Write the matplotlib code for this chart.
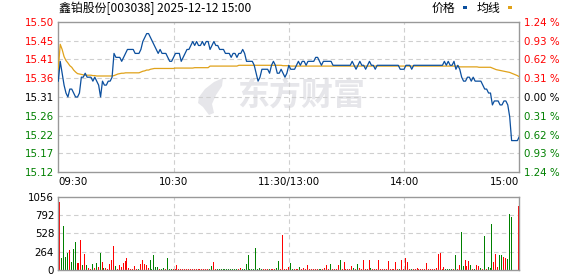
import numpy as np
import matplotlib
matplotlib.use('Agg')
import matplotlib.pyplot as plt
import matplotlib.patches as patches

# ---- data ----
stock_title = '鑫铂股份[003038] 2025-12-12 15:00'
prev_close = 15.31
amplitude = 0.19

price_labels = ['15.12', '15.17', '15.22', '15.26', '15.31', '15.36', '15.41', '15.45', '15.50']
pct_labels = ['1.24 %', '0.93 %', '0.62 %', '0.31 %', '0.00 %', '0.31 %', '0.62 %', '0.93 %', '1.24 %']
time_labels = ['09:30', '10:30', '11:30/13:00', '14:00', '15:00']
time_ticks = [0, 60, 120, 180, 240]
vol_ticks = [0, 264, 528, 792, 1056]

# minute prices 09:30 .. 15:00 (241 points, 11:30 and 13:00 share one slot)
price = [
    15.35, 15.40, 15.37, 15.34, 15.32, 15.31, 15.33, 15.33, 15.32, 15.31,
    15.31, 15.32, 15.36, 15.36, 15.37, 15.36, 15.36, 15.36, 15.35, 15.36,
    15.35, 15.34, 15.31, 15.35, 15.34, 15.34, 15.35, 15.35, 15.36, 15.42,
    15.41, 15.41, 15.41, 15.40, 15.41, 15.42, 15.43, 15.43, 15.43, 15.43,
    15.42, 15.42, 15.42, 15.43, 15.45, 15.46, 15.47, 15.47, 15.46, 15.45,
    15.44, 15.43, 15.42, 15.43, 15.42, 15.42, 15.42, 15.41, 15.40, 15.40,
    15.41, 15.42, 15.42, 15.42, 15.40, 15.41, 15.42, 15.43, 15.43, 15.44,
    15.45, 15.44, 15.45, 15.44, 15.44, 15.45, 15.44, 15.45, 15.45, 15.43,
    15.44, 15.45, 15.44, 15.44, 15.43, 15.43, 15.43, 15.42, 15.42, 15.42,
    15.41, 15.42, 15.42, 15.41, 15.42, 15.42, 15.43, 15.42, 15.40, 15.40,
    15.40, 15.40, 15.39, 15.37, 15.35, 15.36, 15.38, 15.38, 15.38, 15.38,
    15.37, 15.39, 15.40, 15.39, 15.37, 15.37, 15.38, 15.37, 15.36, 15.37,
    15.39, 15.38, 15.38, 15.38, 15.39, 15.40, 15.39, 15.40, 15.40, 15.39,
    15.40, 15.40, 15.40, 15.40, 15.41, 15.41, 15.40, 15.39, 15.40, 15.40,
    15.40, 15.40, 15.40, 15.39, 15.39, 15.39, 15.39, 15.39, 15.39, 15.39,
    15.39, 15.39, 15.39, 15.40, 15.39, 15.38, 15.39, 15.40, 15.39, 15.39,
    15.38, 15.39, 15.40, 15.39, 15.39, 15.38, 15.39, 15.39, 15.39, 15.39,
    15.39, 15.39, 15.39, 15.39, 15.39, 15.39, 15.39, 15.39, 15.38, 15.38,
    15.38, 15.39, 15.39, 15.39, 15.38, 15.39, 15.39, 15.39, 15.39, 15.39,
    15.39, 15.39, 15.39, 15.39, 15.39, 15.39, 15.39, 15.39, 15.39, 15.39,
    15.39, 15.40, 15.39, 15.40, 15.39, 15.39, 15.40, 15.38, 15.39, 15.38,
    15.36, 15.35, 15.35, 15.36, 15.36, 15.35, 15.36, 15.35, 15.35, 15.35,
    15.35, 15.34, 15.33, 15.33, 15.32, 15.32, 15.29, 15.30, 15.30, 15.30,
    15.29, 15.29, 15.30, 15.30, 15.29, 15.26, 15.20, 15.20, 15.20, 15.20,
    15.21,
]

avg_price = [
    15.380, 15.443, 15.430, 15.412, 15.402, 15.396, 15.389, 15.385, 15.378, 15.373,
    15.369, 15.368, 15.367, 15.366, 15.365, 15.365, 15.365, 15.365, 15.364, 15.364,
    15.363, 15.363, 15.363, 15.363, 15.363, 15.363, 15.363, 15.363, 15.363, 15.364,
    15.366, 15.368, 15.369, 15.370, 15.370, 15.371, 15.371, 15.371, 15.371, 15.371,
    15.371, 15.371, 15.371, 15.373, 15.375, 15.376, 15.378, 15.378, 15.380, 15.381,
    15.382, 15.382, 15.382, 15.382, 15.382, 15.382, 15.382, 15.382, 15.382, 15.382,
    15.382, 15.383, 15.383, 15.383, 15.383, 15.383, 15.383, 15.383, 15.383, 15.383,
    15.383, 15.384, 15.384, 15.384, 15.384, 15.384, 15.384, 15.384, 15.384, 15.388,
    15.388, 15.388, 15.388, 15.388, 15.388, 15.388, 15.388, 15.388, 15.388, 15.388,
    15.388, 15.388, 15.388, 15.388, 15.390, 15.390, 15.390, 15.390, 15.390, 15.390,
    15.390, 15.390, 15.390, 15.390, 15.390, 15.390, 15.390, 15.390, 15.390, 15.390,
    15.390, 15.390, 15.390, 15.390, 15.390, 15.390, 15.390, 15.389, 15.389, 15.389,
    15.389, 15.388, 15.388, 15.388, 15.388, 15.388, 15.388, 15.388, 15.388, 15.388,
    15.388, 15.388, 15.388, 15.388, 15.388, 15.388, 15.388, 15.388, 15.388, 15.388,
    15.388, 15.388, 15.388, 15.388, 15.388, 15.388, 15.388, 15.388, 15.388, 15.388,
    15.388, 15.388, 15.388, 15.388, 15.388, 15.388, 15.388, 15.388, 15.388, 15.388,
    15.388, 15.388, 15.388, 15.388, 15.388, 15.388, 15.388, 15.388, 15.388, 15.388,
    15.388, 15.388, 15.388, 15.388, 15.388, 15.388, 15.388, 15.388, 15.388, 15.388,
    15.388, 15.388, 15.388, 15.388, 15.388, 15.388, 15.388, 15.388, 15.388, 15.388,
    15.388, 15.388, 15.388, 15.388, 15.388, 15.388, 15.388, 15.388, 15.388, 15.388,
    15.388, 15.388, 15.388, 15.388, 15.388, 15.388, 15.388, 15.388, 15.388, 15.386,
    15.386, 15.386, 15.386, 15.386, 15.386, 15.386, 15.386, 15.386, 15.386, 15.385,
    15.385, 15.385, 15.385, 15.385, 15.385, 15.385, 15.383, 15.381, 15.379, 15.378,
    15.377, 15.376, 15.375, 15.374, 15.373, 15.372, 15.370, 15.368, 15.366, 15.364,
    15.361,
]

# minute volume 09:31 .. 15:00 (240 bars), and whether the bar is an up bar
volume = [
    984, 178, 634, 192, 240, 288, 120, 302, 408, 106,
    106, 432, 72, 230, 72, 24, 14, 86, 24, 106,
    48, 245, 110, 24, 24, 14, 86, 144, 346, 58,
    14, 72, 48, 96, 130, 178, 24, 14, 14, 62,
    14, 14, 82, 144, 82, 72, 24, 144, 14, 216,
    48, 48, 14, 14, 24, 14, 178, 14, 14, 14,
    14, 72, 14, 14, 14, 14, 14, 14, 14, 14,
    14, 14, 14, 14, 14, 14, 14, 14, 14, 58,
    120, 14, 14, 14, 14, 14, 14, 14, 14, 14,
    14, 14, 14, 14, 24, 14, 14, 86, 216, 14,
    14, 14, 322, 14, 34, 14, 14, 14, 14, 14,
    14, 14, 14, 34, 130, 14, 504, 14, 14, 48,
    96, 14, 14, 14, 14, 43, 14, 29, 14, 72,
    14, 14, 14, 14, 14, 14, 14, 14, 29, 72,
    14, 86, 14, 14, 14, 72, 144, 14, 110, 14,
    14, 14, 58, 29, 14, 86, 24, 14, 144, 14,
    14, 144, 24, 14, 14, 14, 144, 14, 14, 14,
    14, 130, 14, 14, 14, 110, 14, 14, 144, 14,
    178, 110, 14, 14, 14, 14, 29, 14, 14, 14,
    14, 101, 14, 14, 14, 14, 29, 230, 245, 14,
    43, 14, 14, 14, 14, 14, 216, 14, 72, 542,
    58, 144, 58, 130, 72, 14, 14, 72, 58, 29,
    14, 490, 14, 43, 29, 662, 115, 230, 43, 216,
    216, 187, 173, 158, 802, 763, 0, 0, 0, 922,
]
vol_up = [
    1, 0, 0, 0, 0, 1, 0, 0, 0, 1,
    1, 1, 0, 1, 0, 1, 1, 0, 1, 0,
    1, 0, 1, 0, 1, 1, 1, 1, 1, 0,
    1, 1, 1, 1, 1, 1, 1, 1, 1, 1,
    1, 0, 1, 1, 1, 1, 1, 0, 0, 0,
    0, 0, 1, 0, 0, 1, 0, 0, 0, 1,
    1, 1, 1, 1, 1, 1, 1, 1, 1, 1,
    1, 1, 1, 1, 1, 1, 1, 1, 0, 0,
    1, 1, 0, 0, 0, 0, 0, 0, 0, 0,
    0, 0, 0, 1, 1, 0, 0, 0, 0, 0,
    0, 0, 0, 0, 0, 0, 1, 1, 1, 0,
    1, 1, 1, 0, 0, 1, 1, 1, 1, 1,
    0, 0, 1, 1, 1, 0, 1, 1, 1, 1,
    1, 1, 1, 1, 1, 0, 0, 1, 1, 1,
    1, 0, 1, 1, 1, 1, 0, 1, 1, 1,
    1, 1, 1, 0, 1, 0, 1, 1, 1, 1,
    1, 1, 0, 1, 1, 1, 1, 1, 1, 1,
    1, 1, 1, 1, 1, 1, 1, 0, 1, 1,
    1, 1, 1, 0, 1, 1, 1, 1, 1, 1,
    1, 1, 1, 1, 1, 1, 1, 1, 1, 1,
    1, 0, 0, 0, 0, 1, 0, 1, 1, 0,
    0, 1, 1, 1, 0, 1, 0, 1, 1, 0,
    1, 0, 1, 0, 0, 0, 1, 1, 1, 0,
    0, 1, 1, 0, 0, 0, 1, 1, 1, 1,
]

# ---- style ----
RED = '#ff0000'
GREEN = '#008000'
BLUE = '#0b4f9e'
GOLD = '#e0a21a'
SPINE = '#999999'
GRID = '#cfcfcf'
CJK = ['Noto Sans CJK SC', 'DejaVu Sans']
FS = 7.4

W, H = 578, 276
fig = plt.figure(figsize=(W / 100, H / 100), dpi=100)
fig.patch.set_facecolor('white')

left, right = 58.3, 519.3
ax = fig.add_axes([left / W, (H - 172.3) / H, (right - left) / W, 150.6 / H])
axv = fig.add_axes([left / W, (H - 270.0) / H, (right - left) / W, 73.3 / H])

lo, hi = prev_close - amplitude, prev_close + amplitude
yt = np.linspace(lo, hi, len(price_labels))


def label_color(k, n):
    mid = n // 2
    if k > mid:
        return RED
    if k < mid:
        return GREEN
    return 'black'


for a in (ax, axv):
    for s in a.spines.values():
        s.set_color(SPINE)
        s.set_linewidth(1.0)
    a.set_xlim(0, 240)
    a.tick_params(length=0, labelsize=FS)
    a.set_xticks([])

# price panel
ax.set_ylim(lo, hi)
ax.set_yticks(yt)
ax.set_yticklabels(price_labels)
ax.tick_params(axis='y', pad=3)
for k, t in enumerate(ax.get_yticklabels()):
    t.set_color(label_color(k, len(yt)))

for y in yt[1:-1]:
    ax.axhline(y, color=GRID, lw=0.8, ls=(0, (4, 3)), zorder=1)
for x in time_ticks[1:-1]:
    ax.axvline(x, color=GRID, lw=0.8, ls=(0, (4, 3)), zorder=1)

# watermark
ax.text(0.526, 0.5, '东方财富', transform=ax.transAxes, ha='center', va='center',
        fontsize=23, fontweight='bold', color='#e6e6ea', family=CJK, zorder=0)
logo = [(223, 78), (214, 82), (205, 89), (199, 97), (198, 103), (203, 107),
        (209, 115), (214, 113), (212, 104), (216, 95), (222, 86)]
logo_ax = [((px - left) / (right - left), (172.3 - py) / 150.6) for px, py in logo]
ax.add_patch(patches.Polygon(logo_ax, closed=True, transform=ax.transAxes,
                             facecolor='#e6e6ea', edgecolor='none', zorder=0))

t = np.arange(len(price))
ax.plot(t, avg_price, color=GOLD, lw=0.9, zorder=3)
ax.plot(t, price, color=BLUE, lw=0.9, zorder=4)

axr = ax.twinx()
axr.set_ylim(lo, hi)
axr.set_yticks(yt)
axr.set_yticklabels(pct_labels)
axr.tick_params(length=0, labelsize=FS, pad=3.5)
for s in axr.spines.values():
    s.set_visible(False)
for k, tl in enumerate(axr.get_yticklabels()):
    tl.set_color(label_color(k, len(yt)))

# time labels under the price panel
aligns = ['left', 'center', 'center', 'center', 'right']
for x, lab, al in zip(time_ticks, time_labels, aligns):
    ax.text(x, -0.064, lab, transform=ax.get_xaxis_transform(), ha=al,
            va='center', fontsize=FS, color='black')

# volume panel
axv.set_ylim(0, vol_ticks[-1])
axv.set_yticks(vol_ticks)
axv.set_yticklabels([str(v) for v in vol_ticks])
axv.tick_params(axis='y', pad=3)
for v in vol_ticks[1:-1]:
    axv.axhline(v, color=GRID, lw=0.8, ls=(0, (4, 3)), zorder=1)
for x in time_ticks[1:-1]:
    axv.axvline(x, color=GRID, lw=0.8, ls=(0, (4, 3)), zorder=1)

vx = np.arange(1, len(volume) + 1)
vcol = [RED if u else GREEN for u in vol_up]
axv.vlines(vx - 0.5, 0, volume, colors=vcol, linewidth=0.72,
           antialiased=False, zorder=2)

# header: title and legend
fig.text(59 / W, 1 - 8.5 / H, stock_title, ha='left', va='center',
         fontsize=8.6, family=CJK, color='black')
fig.text(432 / W, 1 - 8.5 / H, '价格', ha='left', va='center', fontsize=8.6,
         family=CJK, color='black')
fig.text(477 / W, 1 - 8.5 / H, '均线', ha='left', va='center', fontsize=8.6,
         family=CJK, color='black')
fig.patches.append(patches.Rectangle((463 / W, 1 - 9 / H), 4 / W, 2.5 / H,
                                     transform=fig.transFigure, facecolor=BLUE,
                                     edgecolor='none'))
fig.patches.append(patches.Rectangle((508 / W, 1 - 9 / H), 4 / W, 2.5 / H,
                                     transform=fig.transFigure, facecolor=GOLD,
                                     edgecolor='none'))

fig.savefig('out.png', dpi=100, facecolor='white')
